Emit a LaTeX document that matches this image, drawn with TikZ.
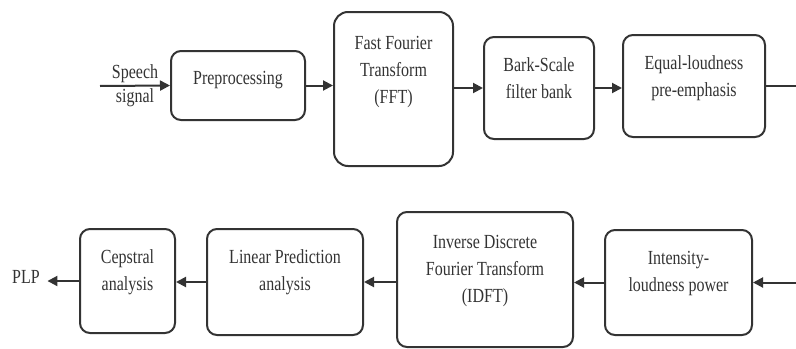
\documentclass[tikz,border=0pt]{standalone}
\usepackage{fontspec}
\setmainfont{Liberation Serif}[FakeStretch=0.8]
\usetikzlibrary{arrows.meta,positioning}

\begin{document}
\begin{tikzpicture}[x=0.5pt,y=-0.5pt,->,>={Triangle[length=5pt,width=5pt]},line width=1pt,
        draw=black!80,text=black!80,font=\fontsize{10}{13.5}\selectfont,
        box/.style={draw=black!80,rounded corners=5pt,inner sep=0pt},
        txt/.style={align=center,inner sep=0pt}]
                \useasboundingbox (0,0) rectangle (796,348);
                % upper row
                \node[box,minimum width=67pt,minimum height=34.5pt](pre)at(238, 85.5){};
                \node[box,rounded corners=7pt,minimum width=59.5pt,minimum height=77pt](fft)at(393.5, 89){};
                \node[box,minimum width=55pt,minimum height=51pt](bark)at(539, 88){};
                \node[box,minimum width=71pt,minimum height=51pt](equal)at(694, 86){};
                \node[txt,below=10pt of pre.north](preT){Preprocessing};
                \node[txt,below=12pt of fft.north](fftT){Fast Fourier\\Transform\\(FFT)};
                \node[txt,below=10.5pt of bark.north](barkT){Bark-Scale\\filter bank};
                \node[txt,below=10.5pt of equal.north](equalT){Equal-loudness\\pre-emphasis};
                % lower row
                \node[box,minimum width=73.5pt,minimum height=52.5pt](inten)at(678.5, 282.5){};
                \node[box,minimum width=88pt,minimum height=67.5pt](idft)at(485, 279.5){};
                \node[box,minimum width=78pt,minimum height=53pt](lp)at(285, 282){};
                \node[box,minimum width=47.5pt,minimum height=52pt](cep)at(127.5, 281){};
                \node[txt,below=10.5pt of inten.north](intenT){Intensity-\\loudness power};
                \node[txt,below=11.5pt of idft.north](idftT){Inverse Discrete\\Fourier Transform\\(IDFT)};
                \node[txt,below=10.5pt of lp.north](lpT){Linear Prediction\\analysis};
                \node[txt,below=10.5pt of cep.north](cepT){Cepstral\\analysis};
                \node[style={}](plp)at(26, 277){PLP};
                \coordinate (in) at (100, 86);
                \coordinate (outR) at (796, 86);
                \coordinate (inR) at (796, 282.5);
                \path[](in) edge node[above,inner sep=1pt]{Speech} node[below,inner sep=1pt]{signal} (pre.west)
                (pre.east) edge (pre.east -| fft.west)
                (bark.west -| fft.east) edge (bark.west)
                (bark.east) edge (bark.east -| equal.west)
                (equal.east) edge[-] (outR)
                (inR) edge (inten.east)
                (inten.west) edge (inten.west -| idft.east)
                (lp.east -| idft.west) edge (lp.east)
                (lp.west) edge (lp.west -| cep.east)
                (cep.west) edge (cep.west -| plp.east);
            \end{tikzpicture}
\end{document}
